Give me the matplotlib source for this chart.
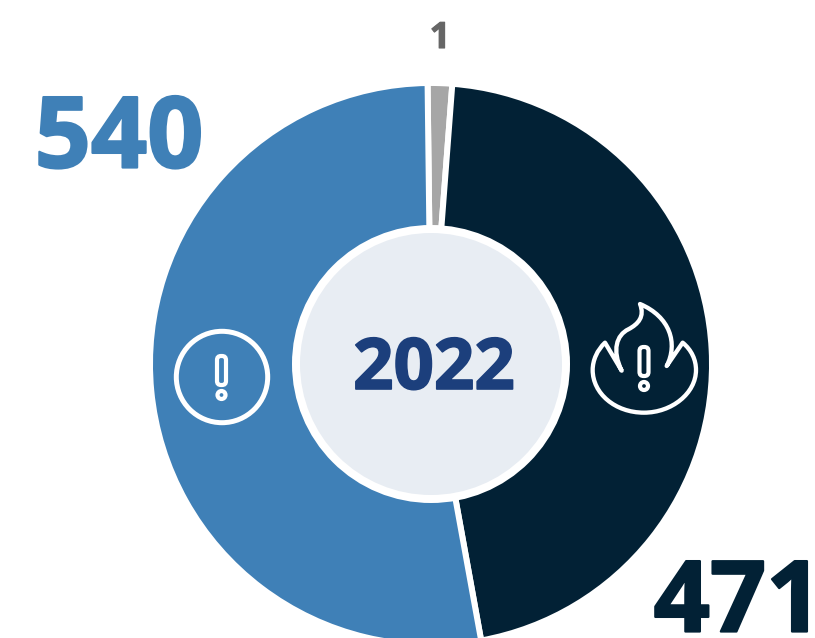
import matplotlib
matplotlib.use("Agg")
import matplotlib.pyplot as plt
from matplotlib.patches import Circle, FancyBboxPatch, PathPatch
from matplotlib.path import Path
import matplotlib.patheffects as pe

plt.rcParams['font.family'] = ['Open Sans', 'DejaVu Sans']

W, H = 815, 638
year = "2022"
labels = ["1", "471", "540"]
# the original does not draw to scale: the "1" slice is much wider than its share
shown_values = [14.4, 471, 540]
colors = ["#a6a6a6", "#022135", "#3f80b7"]

cx, cy = 431, H - 364
radius = 281

def yy(y):
    return H - y

fig = plt.figure(figsize=(W / 100, H / 100), dpi=100)
ax = fig.add_axes([0, 0, 1, 1])

ax.pie(shown_values, colors=colors, startangle=90.7, counterclock=False,
       center=(cx, cy), radius=radius, frame=True,
       wedgeprops={"edgecolor": "white", "linewidth": 4.3})
ax.set_xlim(0, W)
ax.set_ylim(0, H)
ax.set_aspect("equal")
ax.axis("off")

# centre disc
ax.add_patch(Circle((cx, cy), 139, fc="white", ec="none", zorder=3))
ax.add_patch(Circle((cx, cy), 131, fc="#e8edf3", ec="none", zorder=4))

def label(x, y, s, color, size, stroke, z=5):
    t = ax.text(x, yy(y), s, color=color, fontsize=size, fontweight="bold",
                ha="center", va="center", zorder=z, clip_on=False)
    # original face is heavier than the bold here
    t.set_path_effects([pe.withStroke(linewidth=stroke, foreground=color)])

label(434, 370, year, "#1c3f7c", 51, 1.2)
label(119, 142, labels[2], colors[2], 71, 1.6)
label(738, 606, labels[1], colors[1], 71, 1.6)
label(440, 39, labels[0], "#666666", 26, 0.8)

# warning icon on the blue slice
ax.add_patch(Circle((222, yy(377)), 45.7, fc="none", ec="white", lw=3.6, zorder=5))

def bang(x, top, bottom, half, dot_y, dot_r, lw):
    ax.add_patch(FancyBboxPatch((x - half + 2, yy(bottom) + 2), 2 * half - 4, bottom - top - 4,
                                boxstyle="round,pad=2,rounding_size=4",
                                fc="none", ec="white", lw=lw, zorder=6))
    ax.add_patch(Circle((x, yy(dot_y)), dot_r, fc="none", ec="white", lw=lw, zorder=6))

bang(221.5, 356, 385, 4.5, 395, 4, 3)

# flame icon on the dark slice, outline traced in zoomed crop coordinates
def fl(zx, zy):
    return (570 + zx / 3, yy(280 + zy / 3))

flame = [
    (Path.MOVETO, (210, 72)),
    (Path.CURVE4, (300, 110)), (Path.CURVE4, (325, 190)), (Path.CURVE4, (290, 258)),
    (Path.LINETO, (338, 188)),
    (Path.CURVE4, (365, 210)), (Path.CURVE4, (378, 240)), (Path.CURVE4, (378, 270)),
    (Path.CURVE4, (378, 340)), (Path.CURVE4, (305, 398)), (Path.CURVE4, (222, 398)),
    (Path.CURVE4, (135, 398)), (Path.CURVE4, (68, 340)), (Path.CURVE4, (68, 270)),
    (Path.CURVE4, (68, 240)), (Path.CURVE4, (82, 210)), (Path.CURVE4, (105, 188)),
    (Path.LINETO, (155, 272)),
    (Path.CURVE4, (125, 210)), (Path.CURVE4, (140, 165)), (Path.CURVE4, (175, 148)),
    (Path.CURVE4, (205, 132)), (Path.CURVE4, (225, 110)), (Path.CURVE4, (210, 72)),
    (Path.CLOSEPOLY, (210, 72)),
]
codes = [c for c, p in flame]
verts = [fl(*p) for c, p in flame]
ax.add_patch(PathPatch(Path(verts, codes), fc="none", ec="white", lw=3.1,
                       joinstyle="round", zorder=6))
bang(644, 347, 376, 4.5, 386, 4, 3)

fig.savefig("out.png", dpi=100)
